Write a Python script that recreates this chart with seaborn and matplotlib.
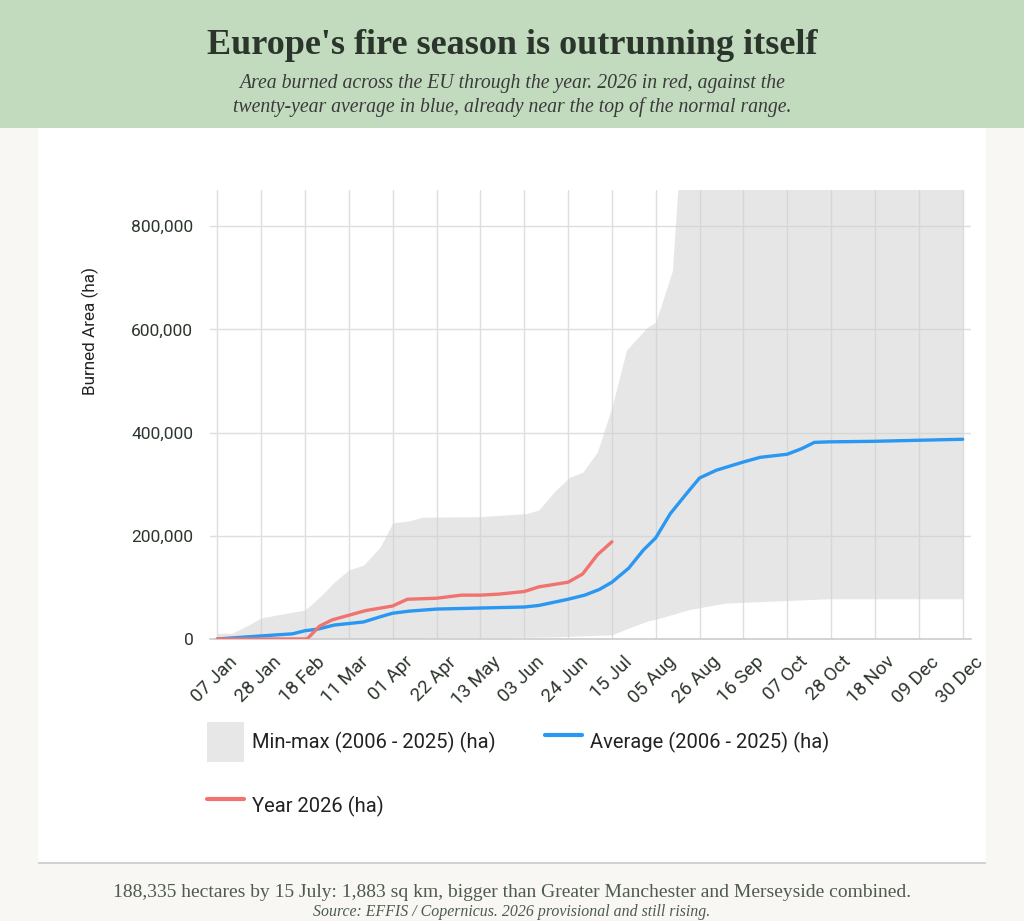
import numpy as np
import pandas as pd
import matplotlib
matplotlib.use("Agg")
import matplotlib.pyplot as plt
from matplotlib.patches import Rectangle, Patch
from matplotlib.lines import Line2D
from matplotlib.transforms import ScaledTranslation
import seaborn as sns

# ---------------- data (day of year 2026, hectares) ----------------
band_max_day = [7, 14, 22, 28, 43, 49, 57, 63, 70, 77, 85, 91, 99, 105, 133, 155, 161,
                169, 176, 182, 189, 196, 203, 213, 217, 225, 228, 233, 250, 300, 364]
band_max_ha = [11000, 11000, 27000, 41000, 52000, 56000, 85000, 110000, 134000, 143000,
               178000, 225000, 229000, 236000, 237000, 243000, 250000, 288000, 314000,
               323000, 362000, 449000, 560000, 604000, 614000, 714000, 900000, 1000000,
               1100000, 1200000, 1250000]

band_min_day = [7, 105, 168, 196, 204, 211, 219, 232, 238, 251, 262, 280, 364]
band_min_ha = [0, 1000, 4000, 8000, 21000, 33000, 40000, 56000, 62000, 70000, 75000,
               78000, 78000]

avg_day = [7, 28, 43, 49, 55, 63, 77, 85, 91, 99, 112, 133, 154, 161, 175, 183, 190, 196,
           204, 211, 217, 224, 232, 238, 246, 259, 267, 280, 287, 293, 300, 321, 342, 364]
avg_ha = [0, 6000, 10000, 16000, 19000, 27000, 33000, 43000, 50000, 54000, 58000, 60000,
          62000, 65000, 77000, 85000, 96000, 110000, 137000, 172000, 196000, 243000,
          283000, 312000, 327000, 343000, 352000, 358000, 369000, 381000, 382000, 383000,
          385000, 387000]

y2026_day = [7, 49, 50, 56, 62, 70, 78, 91, 98, 112, 124, 133, 142, 154, 161, 175, 182,
             189, 196]
y2026_ha = [0, 0, 0, 25000, 37000, 46000, 55000, 64000, 77000, 79000, 85000, 85000,
            87000, 92000, 101000, 110000, 126000, 163000, 188335]

x_tick_labels = ["07 Jan", "28 Jan", "18 Feb", "11 Mar", "01 Apr", "22 Apr", "13 May",
                 "03 Jun", "24 Jun", "15 Jul", "05 Aug", "26 Aug", "16 Sep", "07 Oct",
                 "28 Oct", "18 Nov", "09 Dec", "30 Dec"]
y_ticks = [0, 200000, 400000, 600000, 800000]

legend_labels = ["Min-max (2006 - 2025) (ha)", "Average (2006 - 2025) (ha)", "Year 2026 (ha)"]

title = "Europe's fire season is outrunning itself"
subtitle = ("Area burned across the EU through the year. 2026 in red, against the\n"
            "twenty-year average in blue, already near the top of the normal range.")
footer = ("188,335 hectares by 15 July: 1,883 sq km, bigger than Greater Manchester "
          "and Merseyside combined.")
source = "Source: EFFIS / Copernicus. 2026 provisional and still rising."

# ---------------- style ----------------
sns.set_theme(style="white")
plt.rcParams["font.family"] = ["Roboto", "DejaVu Sans"]

BLUE = "#2a97f2"
RED = "#f07370"
BAND = "#e7e7e7"
GRID = "#dedede"
TXT = "#2d362d"
SERIF = ["Liberation Serif", "DejaVu Serif"]

fig = plt.figure(figsize=(10.24, 9.21), dpi=100, facecolor="#f8f7f4")

# header band and card (behind the axes)
fig.patches.append(Rectangle((0, 1 - 128 / 921), 1, 128 / 921, transform=fig.transFigure,
                             facecolor="#c2dbbf", edgecolor="none", zorder=-10))
fig.patches.append(Rectangle((38 / 1024, (921 - 864) / 921), 948 / 1024, 736 / 921,
                             transform=fig.transFigure, facecolor="#d2d2d2",
                             edgecolor="none", zorder=-10))
fig.patches.append(Rectangle((38 / 1024, (921 - 862) / 921), 948 / 1024, 734 / 921,
                             transform=fig.transFigure, facecolor="white",
                             edgecolor="none", zorder=-9))

fig.text(0.5, 1 - 45 / 921, title, ha="center", va="center", fontsize=26,
         fontweight="bold", family=SERIF, color="#2b352b")
fig.text(0.5, 1 - 95.5 / 921, subtitle, ha="center", va="center", fontsize=14.2,
         style="italic", family=SERIF, color="#3a3a3a", linespacing=1.3)
fig.text(0.5, 1 - 892 / 921, footer, ha="center", va="center", fontsize=14,
         family=SERIF, color="#4d5c4d")
fig.text(0.5, 1 - 912 / 921, source, ha="center", va="center", fontsize=11.4,
         style="italic", family=SERIF, color="#4d5c4d")

# ---------------- axes ----------------
ax = fig.add_axes([210 / 1024, (921 - 639) / 921, 761 / 1024, 449 / 921])
ax.set_facecolor("none")

ax.fill_between(band_max_day, np.interp(band_max_day, band_min_day, band_min_ha),
                band_max_ha, color="#cfcfcf", alpha=0.5, linewidth=0, zorder=1)

df_avg = pd.DataFrame({"day": avg_day, "ha": avg_ha})
df_26 = pd.DataFrame({"day": y2026_day, "ha": y2026_ha})
sns.lineplot(data=df_avg, x="day", y="ha", ax=ax, color=BLUE, linewidth=2.4, zorder=3)
sns.lineplot(data=df_26, x="day", y="ha", ax=ax, color=RED, linewidth=2.4, zorder=3)

tick_days = [pd.Timestamp(f"{t} 2026").dayofyear for t in x_tick_labels]
ax.set_xticks(tick_days)
ax.set_yticks(y_ticks)
ax.set_xlim(3.5, 368)
ax.set_ylim(0, 870000)
ax.tick_params(axis="x", length=0, pad=10)
ax.tick_params(axis="y", length=0, pad=12)
ax.set_xticklabels(x_tick_labels, rotation=45, ha="right", rotation_mode="anchor",
                   fontsize=13.5, color=TXT)
ax.set_yticklabels([f"{v:,}" for v in y_ticks], fontsize=12.5, color=TXT)
shift = ScaledTranslation(0.11, 0.0, fig.dpi_scale_trans)
for lab in ax.get_xticklabels():
    lab.set_transform(lab.get_transform() + shift)
ax.grid(True, color=GRID, linewidth=1.0, zorder=0)
ax.set_axisbelow(True)
for s in ["top", "right", "left"]:
    ax.spines[s].set_visible(False)
ax.spines["bottom"].set_color("#cccccc")
ax.spines["bottom"].set_linewidth(1.2)
ax.set_xlabel("")
ax.set_ylabel("Burned Area (ha)", fontsize=12.3, color="#222222")
ax.yaxis.set_label_coords(-0.146, 0.685)

# ---------------- legend ----------------
handles = [Patch(facecolor=BAND, edgecolor="none"),
           Line2D([], [], color=RED, linewidth=3),
           Line2D([], [], color=BLUE, linewidth=3)]
labels = [legend_labels[0], legend_labels[2], legend_labels[1]]
fig.legend(handles, labels, loc="upper left", bbox_to_anchor=(207 / 1024, 1 - 722 / 921),
           ncol=2, frameon=False, fontsize=14.5, handlelength=1.84, handleheight=2.68,
           handletextpad=0.4, labelspacing=1.2, columnspacing=2.45, borderpad=0,
           borderaxespad=0, labelcolor="#222222")

fig.savefig("out.png", dpi=100, facecolor=fig.get_facecolor())
